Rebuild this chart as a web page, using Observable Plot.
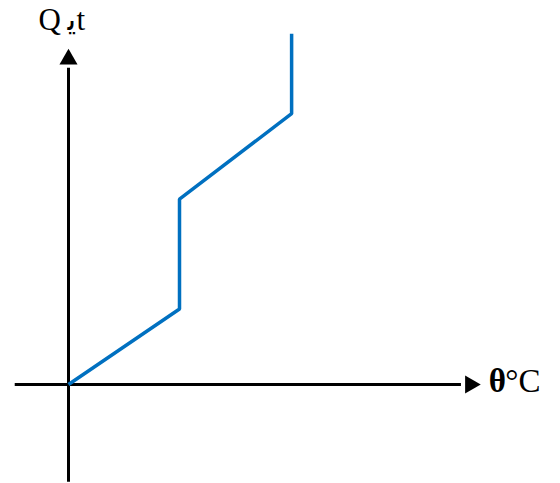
<!DOCTYPE html>
<html>
<head>
<meta charset="utf-8">
<script src="https://cdn.jsdelivr.net/npm/d3@7"></script>
<script src="https://cdn.jsdelivr.net/npm/@observablehq/plot@0.6"></script>
<style>
  html, body { margin: 0; padding: 0; background: #fff; }
</style>
</head>
<body>
<div id="chart"></div>
<script>
// Temperature (θ, arbitrary units) vs heat (Q, arbitrary units)
const theta = [0, 1, 1, 2.01, 2.01];
const Q = [0, 0.68, 1.67, 2.44, 3.16];

const xLabel = "θ";
const xUnit = "°C";
const yLabelParts = ["Q", "\uFEF3", "t"]; // "Qيt"

// axis extents (data units)
const xAxisStart = -0.48, xAxisEnd = 3.62;
const yAxisStart = -0.88, yAxisEnd = 2.93;

const data = theta.map((t, i) => ({theta: t, Q: Q[i]}));

const unit = 111;
const ox = 68, oy = 384;
const serif = "Liberation Serif, DejaVu Serif, serif";

const chart = Plot.plot({
  width: 560,
  height: 483,
  margin: 0,
  x: {domain: [0, 1], range: [ox, ox + unit], axis: null},
  y: {domain: [0, 1], range: [oy, oy - unit], axis: null},
  marks: [
    Plot.ruleY([0], {x1: xAxisStart, x2: xAxisEnd - 0.08, stroke: "black", strokeWidth: 3}),
    Plot.ruleX([0], {y1: yAxisStart, y2: yAxisEnd - 0.08, stroke: "black", strokeWidth: 3}),
    Plot.dot([{x: xAxisEnd, y: 0}], {x: "x", y: "y", symbol: "triangle", r: 6.7, fill: "black", stroke: null, rotate: 90}),
    Plot.dot([{x: 0, y: yAxisEnd}], {x: "x", y: "y", symbol: "triangle", r: 6.7, fill: "black", stroke: null}),
    Plot.line(data, {x: "theta", y: "Q", stroke: "#0070C0", strokeWidth: 3.5, strokeLinejoin: "miter", strokeLinecap: "butt"}),
    Plot.text([xLabel], {x: 3.785, y: -0.07, text: d => d, textAnchor: "start", lineAnchor: "bottom", fontSize: 33, fontWeight: "bold", fontFamily: serif, fill: "black"}),
    Plot.text([xUnit], {x: 3.935, y: -0.07, text: d => d, textAnchor: "start", lineAnchor: "bottom", fontSize: 33, fontFamily: serif, fill: "black"}),
    Plot.text([yLabelParts[0]], {x: 0, y: 3.19, dx: -30, text: d => d, textAnchor: "start", lineAnchor: "bottom", fontSize: 31, fontFamily: serif, fill: "black"}),
    Plot.text([yLabelParts[1]], {x: 0, y: 3.19, dx: -1, text: d => d, textAnchor: "start", lineAnchor: "bottom", fontSize: 31, fontFamily: "DejaVu Sans, sans-serif", fill: "black"}),
    Plot.text([yLabelParts[2]], {x: 0, y: 3.19, dx: 8, text: d => d, textAnchor: "start", lineAnchor: "bottom", fontSize: 31, fontFamily: serif, fill: "black"})
  ]
});
document.getElementById("chart").appendChild(chart);
</script>
</body>
</html>
